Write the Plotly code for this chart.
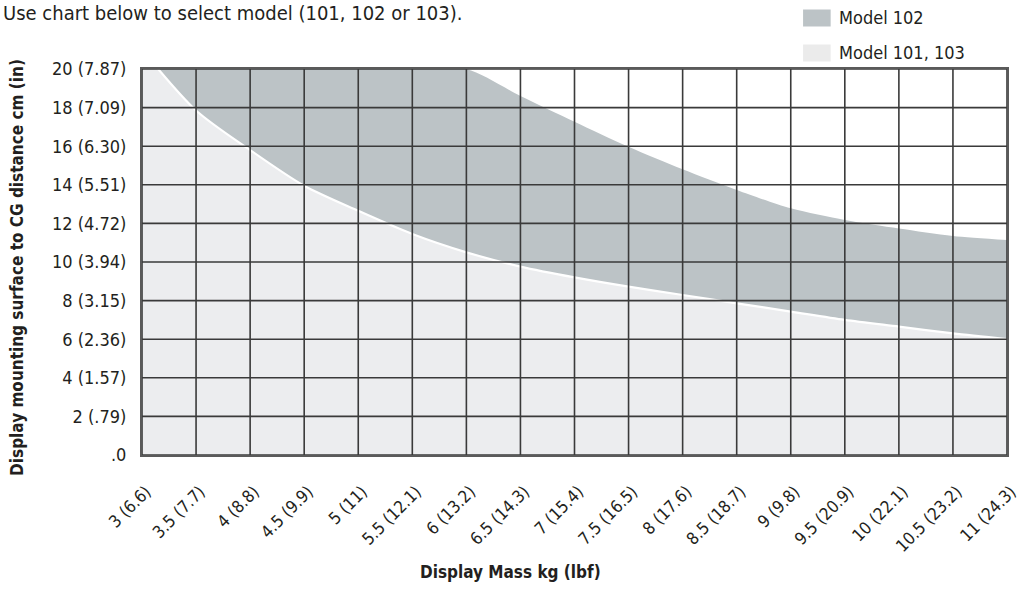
import plotly.graph_objects as go

# ---- data ----
mass_kg = [3, 3.5, 4, 4.5, 5, 5.5, 6, 6.5, 7, 7.5, 8, 8.5, 9, 9.5, 10, 10.5, 11]
mass_labels = ["3 (6.6)", "3.5 (7.7)", "4 (8.8)", "4.5 (9.9)", "5 (11)", "5.5 (12.1)",
               "6 (13.2)", "6.5 (14.3)", "7 (15.4)", "7.5 (16.5)", "8 (17.6)", "8.5 (18.7)",
               "9 (9.8)", "9.5 (20.9)", "10 (22.1)", "10.5 (23.2)", "11 (24.3)"]
dist_ticks = [0, 2, 4, 6, 8, 10, 12, 14, 16, 18, 20]
dist_labels = [".0", "2 (.79)", "4 (1.57)", "6 (2.36)", "8 (3.15)", "10 (3.94)",
               "12 (4.72)", "14 (5.51)", "16 (6.30)", "18 (7.09)", "20 (7.87)"]

# upper limit of Model 101/103 region (cm)
model_101_103 = [21.0, 17.85, 15.8, 13.95, 12.65, 11.45, 10.5, 9.76, 9.2, 8.72,
                 8.29, 7.86, 7.43, 7.0, 6.65, 6.3, 6.0]
# upper limit of Model 102 region (cm), capped at chart top where beyond range
model_102 = [20, 20, 20, 20, 20, 20, 20, 18.6, 17.27, 15.97, 14.8, 13.73,
             12.78, 12.18, 11.74, 11.35, 11.14]

series_names = ["Model 102", "Model 101, 103"]
series_colors = ["#bcc3c6", "#ecedef"]

FONT = "DejaVu Sans Condensed, Liberation Sans Narrow, sans-serif"
TXT = "#231f20"

fig = go.Figure()
fig.add_trace(go.Scatter(
    x=mass_kg, y=model_102, name=series_names[0], mode="lines",
    line=dict(shape="spline", smoothing=0.8, width=0, color=series_colors[0]),
    fill="tozeroy", fillcolor=series_colors[0], showlegend=False, hoverinfo="skip"))
fig.add_trace(go.Scatter(
    x=mass_kg, y=model_101_103, name=series_names[1], mode="lines",
    line=dict(shape="spline", smoothing=0.8, width=2.2, color="#ffffff"),
    fill="tozeroy", fillcolor=series_colors[1], showlegend=False, hoverinfo="skip"))

# grid drawn above the filled regions
grid = dict(color="#3a3a3a", width=1.6)
for xv in mass_kg:
    fig.add_shape(type="line", xref="x", yref="paper", x0=xv, x1=xv, y0=0, y1=1,
                  line=grid, layer="above")
for yv in dist_ticks:
    fig.add_shape(type="line", xref="paper", yref="y", x0=0, x1=1, y0=yv, y1=yv,
                  line=grid, layer="above")

# manual legend (rectangular swatches)
for i, (nm, col) in enumerate(zip(series_names, series_colors)):
    ytop = 1 + (69 - (9.5 + 35 * i)) / 386
    ybot = 1 + (69 - (26.5 + 35 * i)) / 386
    fig.add_shape(type="rect", xref="paper", yref="paper",
                  x0=(813 - 142) / 878, x1=(841 - 142) / 878, y0=ybot, y1=ytop,
                  line=dict(width=0), fillcolor=col if i == 0 else "#ebebeb")
    fig.add_annotation(text=nm, xref="paper", yref="paper",
                       x=(847 - 142) / 878, y=(ytop + ybot) / 2,
                       xanchor="left", yanchor="middle", showarrow=False,
                       font=dict(family=FONT, size=18, color=TXT))

# heading text
fig.add_annotation(text="Use chart below to select model (101, 102 or 103).",
                   xref="paper", yref="paper", x=(-1 - 142) / 878, y=1 + (69 - 13) / 386,
                   xanchor="left", yanchor="middle", showarrow=False,
                   font=dict(family=FONT, size=20, color=TXT))
# axis titles
fig.add_annotation(text="<b>Display Mass kg (lbf)</b>", xref="paper", yref="paper",
                   x=(516 - 142) / 878, y=-(572 - 455) / 386,
                   xanchor="center", yanchor="middle", showarrow=False,
                   font=dict(family=FONT, size=17, color=TXT))
fig.add_annotation(text="<b>Display mounting surface to CG distance cm (in)</b>",
                   xref="paper", yref="paper", x=(15 - 142) / 878, y=(455 - 267) / 386,
                   xanchor="center", yanchor="middle", textangle=-90, showarrow=False,
                   font=dict(family=FONT, size=17, color=TXT))

fig.update_xaxes(range=[3, 11], tickmode="array", tickvals=mass_kg, ticktext=mass_labels,
                 tickangle=-45, showgrid=False, zeroline=False, ticks="",
                 ticklabelstandoff=18, ticklabelshift=4, ticklabeloverflow="allow",
                 showline=True, mirror=True, linecolor="#5a5a5a", linewidth=2,
                 layer="above traces", tickfont=dict(family=FONT, size=17, color=TXT))
fig.update_yaxes(range=[0, 20], tickmode="array", tickvals=dist_ticks, ticktext=dist_labels,
                 showgrid=False, zeroline=False, ticks="", ticklabelstandoff=10,
                 showline=True, mirror=True, linecolor="#5a5a5a", linewidth=2,
                 layer="above traces", tickfont=dict(family=FONT, size=18, color=TXT))

fig.update_layout(width=1029, height=589, margin=dict(l=142, r=9, t=69, b=134),
                  paper_bgcolor="white", plot_bgcolor="white", showlegend=False,
                  font=dict(family=FONT, color=TXT))
fig.write_html("out.html", config={"displayModeBar": False},
               post_script="document.body.style.margin='0px';document.body.style.overflow='hidden';")
